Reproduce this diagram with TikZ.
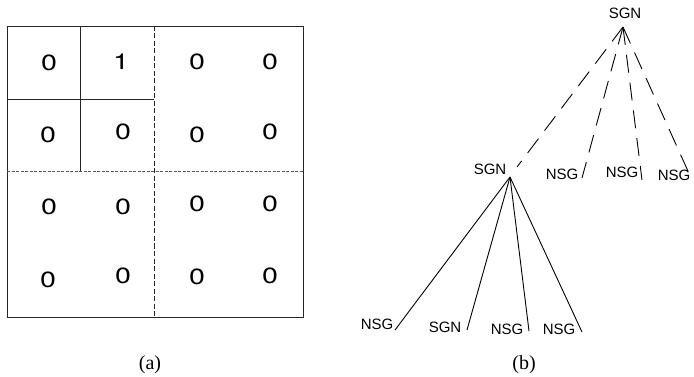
\documentclass[tikz,border=0pt]{standalone}
\usepackage{fontspec}
\setmainfont{Liberation Serif}
\newfontfamily\arialish{Liberation Sans}
\newfontfamily\helvish{TeX Gyre Heros}
% wide digit used in the grid cells
\newcommand\wdigit[1]{\scalebox{1.3}[1]{\helvish\fontsize{22}{22}\selectfont #1}}
\begin{document}
\begin{tikzpicture}[x=1pt,y=-1pt,
  cellnum/.style={inner sep=0pt},
  lbl/.style={font=\arialish\fontsize{15}{15}\selectfont, inner sep=0pt},
  figcaption/.style={font=\fontsize{20}{20}\selectfont, inner sep=0pt, anchor=base},
  gridline/.style={line width=0.9pt, draw=black!85},
  vdash/.style={line width=0.9pt, draw=black!85, dash pattern=on 5pt off 2.5pt},
  hdash/.style={line width=1pt, draw=black!65, dash pattern=on 3pt off 1.5pt},
  treedash/.style={line width=0.9pt, dash pattern=on 18pt off 10pt},
  treeline/.style={line width=0.9pt}]
\useasboundingbox (0,0) rectangle (694,377);

% ---- (a) quadtree grid ----
\draw[gridline] (7,26) rectangle (303,317);
\draw[gridline] (80,26) -- (80,172);
\draw[gridline] (7,99) -- (154,99);
\draw[vdash] (154,26) -- (154,317);
\draw[hdash] (7,172) -- (303,172);

\node[cellnum] (c11) at (49,63) {\wdigit{0}};
\node[cellnum] (c12) at (121,62) {\wdigit{1}};
\node[cellnum] (c13) at (197,62) {\wdigit{0}};
\node[cellnum] (c14) at (270,62) {\wdigit{0}};
\node[cellnum] (c21) at (48,135) {\wdigit{0}};
\node[cellnum] (c22) at (123,132) {\wdigit{0}};
\node[cellnum] (c23) at (197,135) {\wdigit{0}};
\node[cellnum] (c24) at (270,132) {\wdigit{0}};
\node[cellnum] (c31) at (49,207) {\wdigit{0}};
\node[cellnum] (c32) at (123,207) {\wdigit{0}};
\node[cellnum] (c33) at (197,204) {\wdigit{0}};
\node[cellnum] (c34) at (270,204) {\wdigit{0}};
\node[cellnum] (c41) at (48,280) {\wdigit{0}};
\node[cellnum] (c42) at (123,276) {\wdigit{0}};
\node[cellnum] (c43) at (197,277) {\wdigit{0}};
\node[cellnum] (c44) at (270,276) {\wdigit{0}};

\node[figcaption] (capa) at (150,369) {(a)};

% ---- (b) tree ----
\node[lbl] (root) at (625,13) {SGN};
\coordinate (rootj) at (623,27);

\node[lbl] (sgnA) at (490,169) {SGN};
\node[lbl] (nsgB) at (562,174) {NSG};
\node[lbl] (nsgC) at (622,172) {NSG};
\node[lbl] (nsgD) at (674,175) {NSG};

\coordinate (eA) at (517,167);
\coordinate (eB) at (582,178);
\coordinate (eC) at (642,180);
\coordinate (eD) at (692,180);

\draw[treedash] (rootj) -- (eA);
\draw[treedash] (rootj) -- (eB);
\draw[treedash] (rootj) -- (eC);
\draw[treedash] (rootj) -- (eD);

\coordinate (midj) at (510,177);
\node[lbl] (n1) at (377,324) {NSG};
\node[lbl] (n2) at (445,327) {SGN};
\node[lbl] (n3) at (507,329) {NSG};
\node[lbl] (n4) at (559,329) {NSG};

\coordinate (f1) at (395,330);
\coordinate (f2) at (467,330);
\coordinate (f3) at (529,331);
\coordinate (f4) at (582,332);

\draw[treeline] (midj) -- (f1);
\draw[treeline] (midj) -- (f2);
\draw[treeline] (midj) -- (f3);
\draw[treeline] (midj) -- (f4);

\node[figcaption] (capb) at (524,369) {(b)};
\end{tikzpicture}
\end{document}
